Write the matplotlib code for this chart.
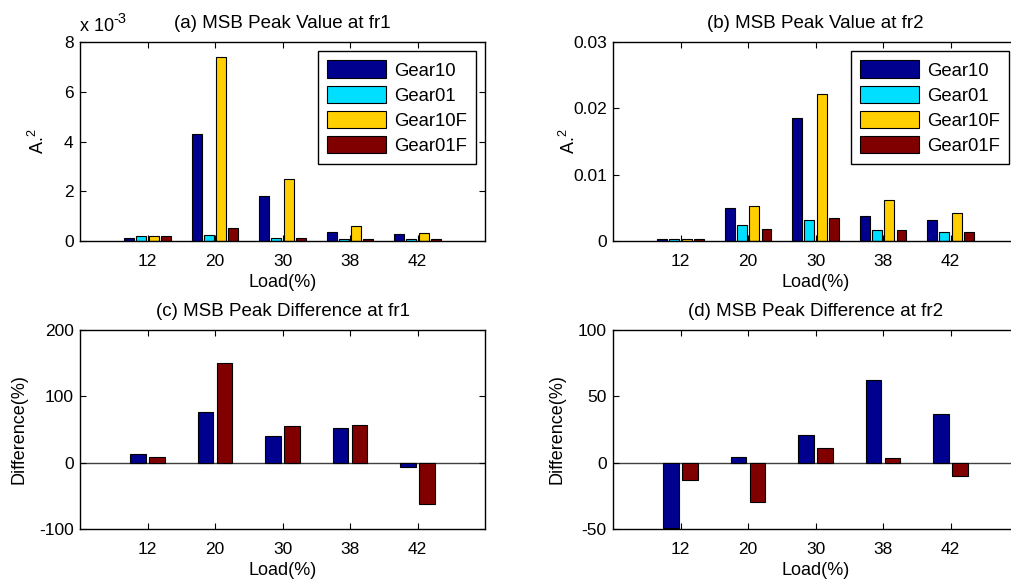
import matplotlib
matplotlib.use("Agg")
import matplotlib.pyplot as plt
from matplotlib.transforms import offset_copy
import numpy as np

plt.rcParams['font.family'] = ['Liberation Sans', 'DejaVu Sans']
plt.rcParams['axes.unicode_minus'] = False
plt.rcParams['mathtext.fontset'] = 'custom'
plt.rcParams['mathtext.rm'] = 'Liberation Sans'
plt.rcParams['mathtext.it'] = 'Liberation Sans'
plt.rcParams['mathtext.bf'] = 'Liberation Sans:bold'

loads = ['12', '20', '30', '38', '42']
series_names = ['Gear10', 'Gear01', 'Gear10F', 'Gear01F']
colors = ['#00008F', '#00DFFF', '#FFCF00', '#800000']

# (a) MSB peak value at fr1 (units of 1e-3)
fr1_gear10 = [0.12, 4.29, 1.81, 0.36, 0.29]
fr1_gear01 = [0.19, 0.23, 0.12, 0.08, 0.08]
fr1_gear10f = [0.19, 7.41, 2.49, 0.59, 0.31]
fr1_gear01f = [0.19, 0.52, 0.12, 0.08, 0.08]

# (b) MSB peak value at fr2
fr2_gear10 = [0.0003, 0.0050, 0.0185, 0.0038, 0.0032]
fr2_gear01 = [0.0003, 0.0024, 0.0031, 0.0016, 0.0014]
fr2_gear10f = [0.0003, 0.0053, 0.0222, 0.0062, 0.0042]
fr2_gear01f = [0.0003, 0.0018, 0.0035, 0.0016, 0.0014]

# (c) difference at fr1 (%)
diff1_a = [13.5, 76, 39.6, 52.6, -6.5]
diff1_b = [9, 150, 54.6, 56.6, -63]

# (d) difference at fr2 (%)
diff2_a = [-49.4, 4.5, 20.8, 62, 37]
diff2_b = [-13.3, -29.6, 11, 3.3, -9.8]

W, H = 1011, 583
fig = plt.figure(figsize=(W / 100, H / 100), dpi=100)


def make_axes(left, top, right, bottom):
    return fig.add_axes([left / W, 1 - bottom / H, (right - left) / W, (bottom - top) / H])


ax_a = make_axes(80, 42, 485, 241)
ax_b = make_axes(613, 42, 1018, 241)
ax_c = make_axes(80, 330, 485, 529)
ax_d = make_axes(613, 330, 1018, 529)

x = np.arange(1, len(loads) + 1)


def grouped(ax, data, cols, labels=None):
    n = len(data)
    gw = min(0.8, n / (n + 1.5))
    step = gw / n
    width = step * 0.8
    for i, (vals, c) in enumerate(zip(data, cols)):
        off = (i - (n - 1) / 2) * step
        ax.bar(x + off, vals, width=width, color=c, edgecolor='black', linewidth=0.8,
               label=labels[i] if labels else None, zorder=2)


def style(ax, title, ylabel, ylim, yticks, ylabel_px, yticklabels=None):
    ax.set_xlim(0, 6)
    ax.set_ylim(*ylim)
    ax.set_xticks(x)
    ax.set_xticklabels(loads)
    ax.set_yticks(yticks)
    if yticklabels is not None:
        ax.set_yticklabels(yticklabels)
    ax.tick_params(direction='in', top=True, right=True, length=4, width=0.8,
                   labelsize=12.5)
    ax.tick_params(axis='x', pad=9.5)
    ax.tick_params(axis='y', pad=4.5)
    ax.set_title(title, fontsize=13.5, pad=10)
    ax.set_xlabel('Load(%)', fontsize=13, labelpad=3.5)
    ax.set_ylabel(ylabel, fontsize=13)
    ax.yaxis.label.set_verticalalignment('center')
    ax.yaxis.set_label_coords(ylabel_px / 405.0, 0.5)
    for s in ax.spines.values():
        s.set_linewidth(1.0)


grouped(ax_a, [fr1_gear10, fr1_gear01, fr1_gear10f, fr1_gear01f], colors, series_names)
style(ax_a, '(a) MSB Peak Value at fr1', 'A.$^2$', (0, 8), [0, 2, 4, 6, 8], 38 - 80)
ax_a.text(0, 1.035, 'x 10', transform=ax_a.transAxes, fontsize=13, ha='left', va='bottom')
sup_tr = offset_copy(ax_a.transAxes, fig=fig, x=33, y=9, units='dots')
ax_a.text(0, 1.035, '-3', transform=sup_tr, fontsize=10.5, ha='left', va='bottom')

grouped(ax_b, [fr2_gear10, fr2_gear01, fr2_gear10f, fr2_gear01f], colors, series_names)
style(ax_b, '(b) MSB Peak Value at fr2', 'A.$^2$', (0, 0.03), [0, 0.01, 0.02, 0.03],
      569 - 613, ['0', '0.01', '0.02', '0.03'])

grouped(ax_c, [diff1_a, diff1_b], [colors[0], colors[3]])
style(ax_c, '(c) MSB Peak Difference at fr1', 'Difference(%)', (-100, 200),
      [-100, 0, 100, 200], 19 - 80)
ax_c.axhline(0, color='#404040', linewidth=1.0, zorder=1)

grouped(ax_d, [diff2_a, diff2_b], [colors[0], colors[3]])
style(ax_d, '(d) MSB Peak Difference at fr2', 'Difference(%)', (-50, 100),
      [-50, 0, 50, 100], 557 - 613)
ax_d.axhline(0, color='#404040', linewidth=1.0, zorder=1)

for ax in (ax_a, ax_b):
    leg = ax.legend(loc='upper right', fontsize=13.3, handlelength=3.2, handleheight=1.1,
                    labelspacing=0.32, borderaxespad=0.5, fancybox=False, framealpha=1,
                    edgecolor='black', borderpad=0.5, handletextpad=0.4)
    leg.get_frame().set_linewidth(1.0)

fig.savefig('out.png', dpi=100)
